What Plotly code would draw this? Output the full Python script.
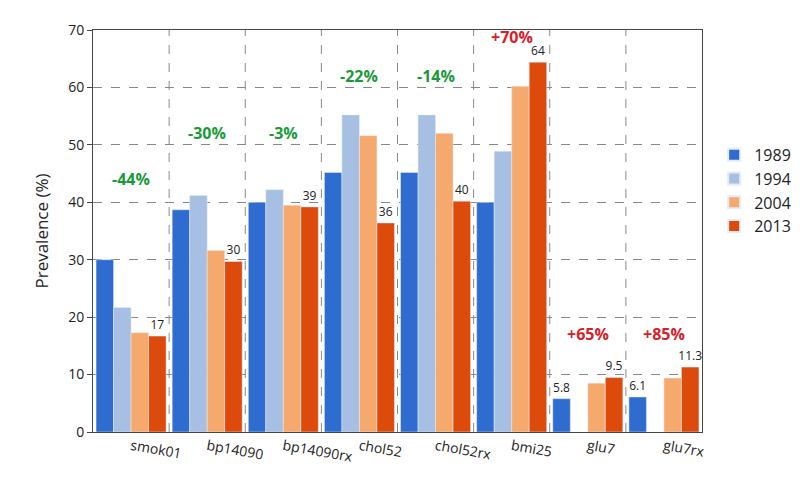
import plotly.graph_objects as go

categories = ["smok01", "bp14090", "bp14090rx", "chol52", "chol52rx", "bmi25", "glu7", "glu7rx"]
years = ["1989", "1994", "2004", "2013"]
v1989 = [30.0, 38.7, 40.0, 45.2, 45.2, 40.0, 5.8, 6.1]
v1994 = [21.7, 41.2, 42.2, 55.2, 55.2, 48.9, None, None]
v2004 = [17.3, 31.6, 39.5, 51.6, 52.0, 60.2, 8.5, 9.4]
v2013 = [16.7, 29.7, 39.2, 36.4, 40.2, 64.4, 9.5, 11.3]
labels_2013 = ["17", "30", "39", "36", "40", "64", "9.5", "11.3"]
labels_1989 = ["", "", "", "", "", "", "5.8", "6.1"]
changes = ["-44%", "-30%", "-3%", "-22%", "-14%", "+70%", "+65%", "+85%"]
change_y = [44, 52, 52, 62, 62, 68.8, 17, 17]
colors = ["#2e6cd0", "#a6bfe3", "#f6a96d", "#dc4a0c"]
texts = [labels_1989, None, None, labels_2013]

fig = go.Figure()
for name, vals, col, txt in zip(years, [v1989, v1994, v2004, v2013], colors, texts):
    fig.add_bar(x=categories, y=vals, name=name, marker_color=col, text=txt,
                textposition="outside", cliponaxis=False,
                textfont=dict(size=12, color="#222"))

for c, t, y in zip(categories, changes, change_y):
    fig.add_annotation(x=c, y=y, text="<b>%s</b>" % t, showarrow=False,
                       font=dict(size=16, color="#1a9a3a" if t.startswith("-") else "#d8202a"))

for i in range(len(categories) - 1):
    fig.add_shape(type="line", x0=i + 0.5, x1=i + 0.5, y0=0, y1=70, xref="x", yref="y",
                  line=dict(color="#888", width=1, dash="dash"))

fig.update_layout(
    width=800, height=492, barmode="group", bargap=0.08, bargroupgap=0,
    plot_bgcolor="white", paper_bgcolor="white",
    margin=dict(l=85, r=85, t=18, b=68),
    font=dict(family="Open Sans", size=14, color="#222"),
    uniformtext=dict(minsize=12, mode="show"),
    legend=dict(x=1.02, y=0.6, yanchor="middle", font=dict(size=16), tracegroupgap=0,
                itemsizing="constant"),
)
fig.update_yaxes(range=[0, 70], dtick=10, showgrid=True, gridcolor="#888", griddash="dash",
                 title="Prevalence (%)", showline=True, linecolor="#444", ticks="outside",
                 zeroline=False, mirror=True)
fig.update_xaxes(tickangle=10, showline=True, linecolor="#444", mirror=True, ticks="")
fig.write_html("out.html")
